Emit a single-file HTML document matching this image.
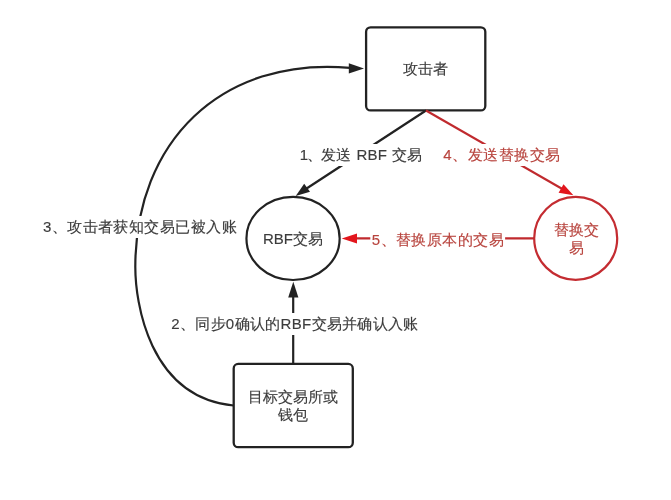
<!DOCTYPE html>
<html><head><meta charset="utf-8">
<style>
html,body{margin:0;padding:0;background:#fff;}
body{width:671px;height:500px;position:relative;overflow:hidden;font-family:"Liberation Sans",sans-serif;}
svg{position:absolute;left:0;top:0;}
.t{will-change:transform;-webkit-text-stroke:0.15px currentColor;position:absolute;white-space:nowrap;font-size:15px;line-height:18px;color:#3c3c3c;transform:translate(-50%,-50%);text-align:center;}
.bg{background:#fff;line-height:22px;}
.r{color:#b8443e;}
</style></head><body>
<svg width="671" height="500" viewBox="0 0 671 500">
  <!-- boxes -->
  <rect x="366.1" y="27.3" width="119.2" height="83.1" rx="4.5" ry="4.5" fill="#fff" stroke="#222" stroke-width="2.3"/>
  <rect x="233.7" y="363.9" width="119.1" height="83.3" rx="4.5" ry="4.5" fill="#fff" stroke="#222" stroke-width="2.3"/>
  <!-- RBF circle -->
  <ellipse cx="293.05" cy="238.4" rx="46.6" ry="41.6" fill="#fff" stroke="#222" stroke-width="2.2"/>
  <!-- red circle -->
  <circle cx="575.7" cy="238.3" r="41.5" fill="#fff" stroke="#c42c31" stroke-width="2.2"/>
  <!-- line 1 -->
  <line x1="426" y1="110.5" x2="302" y2="191.5" stroke="#222" stroke-width="2.2"/>
  <polygon points="295.7,195.9 304.2,183.8 310,191.8" fill="#222"/>
  <!-- line 4 red -->
  <line x1="426" y1="110.5" x2="565" y2="190.5" stroke="#c02a2e" stroke-width="2.2"/>
  <polygon points="573.4,195.3 563.5,184.2 558.6,192.7" fill="#e3161d"/>
  <!-- line 2 -->
  <line x1="293.2" y1="363.9" x2="293.2" y2="293" stroke="#222" stroke-width="2.2"/>
  <polygon points="293.3,281.8 288.2,297.6 298.4,297.6" fill="#222"/>
  <!-- line 5 red -->
  <line x1="534" y1="238.4" x2="352" y2="238.4" stroke="#c02a2e" stroke-width="2.2"/>
  <polygon points="341.7,238.5 357,233.6 357,243.4" fill="#e3161d"/>
  <!-- curve 3 -->
  <path d="M233.5,405.5 C148.5,396.9 135.3,301.4 135.3,266.9 C135.3,141.8 220.9,56.5 350,67.8" fill="none" stroke="#222" stroke-width="2.2"/>
  <polygon points="364,68.6 348.8,63.2 348.8,73.6" fill="#222"/>
</svg>
<div class="t" style="left:425.1px;top:69.3px;">攻击者</div>
<div class="t bg" style="left:360.8px;top:155px;letter-spacing:0.15px;word-spacing:0.7px;"><span style="letter-spacing:-0.9px">1、</span>发送 RBF 交易</div>
<div class="t bg r" style="left:501.6px;top:155px;letter-spacing:0.55px;">4、发送替换交易</div>
<div class="t bg" style="left:139.8px;top:226.5px;letter-spacing:0.45px;">3、攻击者获知交易已被入账</div>
<div class="t" style="left:293.3px;top:238.5px;">RBF交易</div>
<div class="t bg r" style="left:437.6px;top:239.5px;letter-spacing:0.45px;padding:0 1.5px;">5、替换原本的交易</div>
<div class="t r" style="left:575.7px;top:238.5px;white-space:normal;width:60px;">替换交<br>易</div>
<div class="t bg" style="left:294.8px;top:323.5px;letter-spacing:0.33px;">2、同步0确认的RBF交易并确认入账</div>
<div class="t" style="left:292.7px;top:405.5px;white-space:normal;width:100px;">目标交易所或<br>钱包</div>
</body></html>
